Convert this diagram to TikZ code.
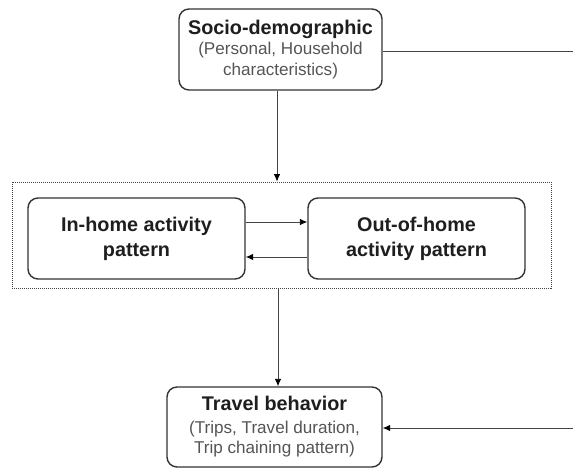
\documentclass[tikz,border=0pt]{standalone}
\usepackage{fontspec}
\setmainfont{Liberation Sans}
\usetikzlibrary{arrows.meta}
\definecolor{edgec}{HTML}{333333}
\definecolor{wirec}{HTML}{444444}
\definecolor{titlec}{HTML}{1E1E1E}
\definecolor{subc}{HTML}{555555}
\newcommand\ttl[1]{{\fontsize{19.8}{20.8}\selectfont\bfseries\color{titlec}#1}}
\begin{document}
\begin{tikzpicture}[x=1pt,y=-1pt,
  box/.style={draw=edgec, line width=1.4pt, rounded corners=10pt, fill=white,
    align=center, inner sep=0pt, text=subc,
    font=\fontsize{17.1}{20.8}\selectfont},
  wire/.style={draw=wirec, line width=0.9pt},
  arr/.style={wire, -{Latex[length=7.5pt,width=6.5pt,color=black]}},
  frame/.style={draw=wirec, dash pattern=on 1pt off 1pt, line width=0.8pt, inner sep=0pt}]
\useasboundingbox (0,0) rectangle (573,468);

\node[frame, minimum width=539pt, minimum height=106pt] (frm) at (281.5,235) {};

\node[box, minimum width=203pt, minimum height=81pt] (socio) at (280.5,49.5)
  {\ttl{Socio-demographic}\\(Personal, Household\\characteristics)};
\node[box, minimum width=217pt, minimum height=81pt] (inh) at (136.5,238.5)
  {\ttl{In-home activity}\\[4pt]\ttl{pattern}};
\node[box, minimum width=217pt, minimum height=81pt] (outh) at (416.5,238.5)
  {\ttl{Out-of-home}\\[4pt]\ttl{activity pattern}};
\node[box, minimum width=215pt, minimum height=80pt] (travel) at (274.5,427)
  {\ttl{Travel behavior}\\[1.5pt](Trips, Travel duration,\\Trip chaining pattern)};

\coordinate (v1) at (277,0);
\coordinate (v2) at (278,0);
\coordinate (rt) at (573,51);
\coordinate (rb) at (573,428);
\coordinate (a1) at (0,222);
\coordinate (a2) at (0,257);

\draw[wire] (socio.east |- rt) -- (rt);
\draw[arr] (socio.south -| v1) -- (frm.north -| v1);
\draw[arr] (inh.east |- a1) -- (outh.west |- a1);
\draw[arr] (outh.west |- a2) -- (inh.east |- a2);
\draw[arr] (frm.south -| v2) -- (travel.north -| v2);
\draw[arr] (rb) -- (travel.east |- rb);
\end{tikzpicture}
\end{document}
